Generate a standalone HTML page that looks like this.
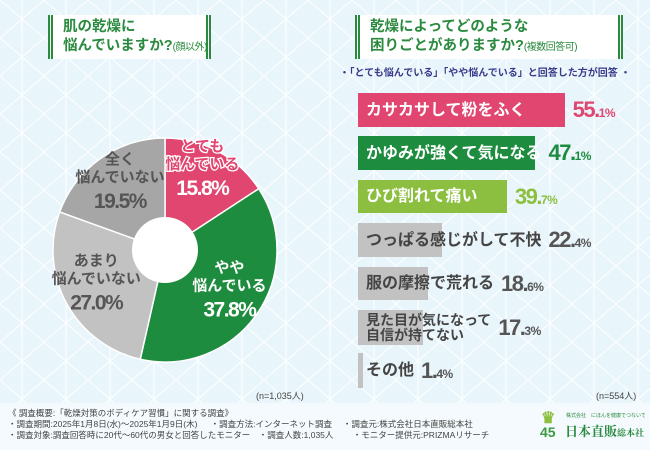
<!DOCTYPE html>
<html><head><meta charset="utf-8">
<style>
html,body{margin:0;padding:0}
body{width:650px;height:450px;overflow:hidden;position:relative;background:#e8f5fb;font-family:"Liberation Sans","Noto Sans CJK JP",sans-serif}
.abs{position:absolute}
.title{background:#fff;border-left:5px double #2a8a3e;border-right:5px double #2a8a3e;color:#2a8a3e;font-weight:bold;font-size:14.5px;line-height:19px;padding:3px 0 0 10px;box-sizing:border-box;white-space:nowrap;overflow:hidden}
.title small{font-size:10px;font-weight:normal;letter-spacing:-0.5px}
.row{position:absolute;left:366px;display:flex;align-items:center;white-space:nowrap}
.lbl{font-weight:bold;white-space:nowrap;font-size:16px;line-height:17px;flex:none;display:inline-block}
.val{font-weight:bold;white-space:nowrap;font-size:22px;letter-spacing:-1.5px;margin-left:7px;flex:none}
.val span{font-size:12px;letter-spacing:-0.5px}
.foot{font-size:8.5px;color:#444;line-height:11px;white-space:pre}
</style></head><body>
<svg class="abs" style="left:0;top:0" width="650" height="450">
<defs><pattern id="p" width="44" height="38" patternUnits="userSpaceOnUse">
<path d="M0 0L22 19L44 0M0 38L22 19L44 38M22 0V38" stroke="#fff" stroke-width="1.3" fill="none" opacity=".8"/></pattern></defs>
<rect width="650" height="450" fill="url(#p)"/>
<rect y="403" width="650" height="47" fill="#f4fafd"/>
</svg>

<div class="abs title" style="left:48px;top:15px;width:163px;height:44px">肌の乾燥に<br>悩んでいますか?<small>(顔以外)</small></div>
<div class="abs title" style="left:355px;top:15px;width:268px;height:44px">乾燥によってどのような<br>困りごとがありますか?<small>(複数回答可)</small></div>
<div class="abs" style="left:330px;top:64px;width:310px;text-align:center;font-size:10px;color:#3a3a8a;font-weight:bold;white-space:nowrap">・「とても悩んでいる」「やや悩んでいる」と回答した方が回答 ・</div>

<svg id="pie" class="abs" style="left:0;top:0" width="330" height="400"></svg>
<div id="bars" class="abs" style="left:0;top:0;width:650px;height:400px"></div>

<div class="abs" style="left:256px;top:389px;font-size:9px;color:#444">(n=1,035人)</div>
<div class="abs" style="left:596px;top:389px;font-size:9px;color:#444">(n=554人)</div>

<div class="abs foot" style="left:8px;top:408px">《 調査概要:「乾燥対策のボディケア習慣」に関する調査》
・調査期間:2025年1月8日(水)～2025年1月9日(木)　  ・調査方法:インターネット調査　 ・調査元:株式会社日本直販総本社
・調査対象:調査回答時に20代～60代の男女と回答したモニター　・調査人数:1,035人　　 ・モニター提供元:PRIZMAリサーチ</div>
<div class="abs" style="left:540px;top:410px;width:105px;height:32px;overflow:hidden">
<div class="abs" style="left:1px;top:-2px;font-size:16px;font-weight:bold;color:#8cbf3f">♛</div>
<div class="abs" style="left:0;top:14px;font-size:14px;font-weight:bold;color:#3a9a3e">45</div>
<div class="abs" style="left:26px;top:2px;font-size:5px;color:#2a8a3e;white-space:nowrap">株式会社　にほんを健康でつないでいく</div>
<div class="abs" style="left:25px;top:11px;font-size:13px;font-weight:bold;color:#2a8a3e;font-family:'Noto Serif CJK SC',serif;white-space:nowrap">日本直販<span style="font-size:9px">総本社</span></div>
</div>

<script>
const pieLabels=["とても\n悩んでいる","やや\n悩んでいる","あまり\n悩んでいない","全く\n悩んでいない"];
const pieValues=[15.8,37.8,27.0,19.5];
const pieColors=["#e0466f","#1e8c3e","#c2c2c2","#a6a6a6"];
const barLabels=["カサカサして粉をふく","かゆみが強くて気になる","ひび割れて痛い","つっぱる感じがして不快","服の摩擦で荒れる","見た目が気になって\n自信が持てない","その他"];
const barValues=[55.1,47.1,39.7,22.4,18.6,17.3,1.4];
const barColors=["#e0466f","#1e8c3e","#8cbf3f","#c2c2c2","#c2c2c2","#c2c2c2","#c2c2c2"];
const valColors=["#e0466f","#1e8c3e","#8cbf3f","#555","#555","#555","#555"];

const NS="http://www.w3.org/2000/svg";
const svg=document.getElementById('pie');
const cx=165,cy=250,R=112,r0=33;
const total=pieValues.reduce((a,b)=>a+b,0);
function pt(a,rr){return [cx+rr*Math.sin(a),cy-rr*Math.cos(a)];}
let acc=0;
pieValues.forEach((v,i)=>{
  const a0=acc/total*2*Math.PI; acc+=v; const a1=acc/total*2*Math.PI;
  const p0=pt(a0,R),p1=pt(a1,R),lg=(a1-a0)>Math.PI?1:0;
  const path=document.createElementNS(NS,'path');
  path.setAttribute('d',`M${cx},${cy}L${p0[0]},${p0[1]}A${R},${R} 0 ${lg} 1 ${p1[0]},${p1[1]}Z`);
  path.setAttribute('fill',pieColors[i]);path.setAttribute('stroke','#fff');path.setAttribute('stroke-width','1.5');
  
  
  svg.appendChild(path);
  const am=(a0+a1)/2, lp=pt(am,R*0.7);
  const g=document.createElementNS(NS,'text');
  g.setAttribute('x',lp[0]);g.setAttribute('y',lp[1]-(i==0?30:22));g.setAttribute('text-anchor','middle');
  g.setAttribute('font-weight','bold');
  g.setAttribute('fill',i<2?'#fff':'#555');
  g.setAttribute('stroke',i==0?'#fff':'none');g.setAttribute('stroke-width','2.5');
  g.setAttribute('paint-order','stroke');
  
  
  const lines=pieLabels[i].split('\n');
  lines.forEach((l,k)=>{const t=document.createElementNS(NS,'tspan');t.setAttribute('x',lp[0]);t.setAttribute('dy',k?18:0);t.setAttribute('font-size','15');
    if(i==0)t.setAttribute('fill','#e0466f');t.textContent=l;g.appendChild(t);});
  const t=document.createElementNS(NS,'tspan');t.setAttribute('x',lp[0]);t.setAttribute('dy',26);t.setAttribute('font-size','21');t.setAttribute('letter-spacing','-1.5');
  if(i==0){t.setAttribute('stroke','#e0466f');}
  t.textContent=v.toFixed(1)+'%';
  g.appendChild(t);
  svg.appendChild(g);
});
const hole=document.createElementNS(NS,'circle');
hole.setAttribute('cx',cx);hole.setAttribute('cy',cy);hole.setAttribute('r',r0);hole.setAttribute('fill','#fff');


svg.appendChild(hole);

const bars=document.getElementById('bars');
const x0=358,scale=3.75;
const rowTop=[93,136,180,223,267,310,353],rowH=[34,34,33,34,33,35,35];
function bx(v){return x0+v*scale;}
barValues.forEach((v,i)=>{
  const b=document.createElement('div');
  b.className='abs';
  b.style.cssText=`left:${x0}px;top:${rowTop[i]}px;width:${bx(v)-x0}px;height:${rowH[i]}px;background:${barColors[i]}`;
  
  
  bars.appendChild(b);
  const row=document.createElement('div');
  row.className='row';
  row.style.top=rowTop[i]+'px';row.style.height=rowH[i]+'px';
  
  
  const l=document.createElement('div');
  l.className='lbl';
  const two=barLabels[i].includes('\n');
  l.innerHTML=barLabels[i].replace('\n','<br>');
  l.style.color=i<3?'#fff':'#444';
  l.style.fontSize=two?'14px':'16px';
  l.style.lineHeight=two?'15px':'17px';
  l.style.minWidth=(bx(v)+1-366)+'px';
  
  
  row.appendChild(l);
  const val=document.createElement('div');
  val.className='val';
  const s=v.toFixed(1).split('.');
  val.innerHTML=s[0]+'.<span>'+s[1]+'%</span>';
  val.style.color=valColors[i];
  
  
  row.appendChild(val);
  bars.appendChild(row);
});
</script>
</body></html>
